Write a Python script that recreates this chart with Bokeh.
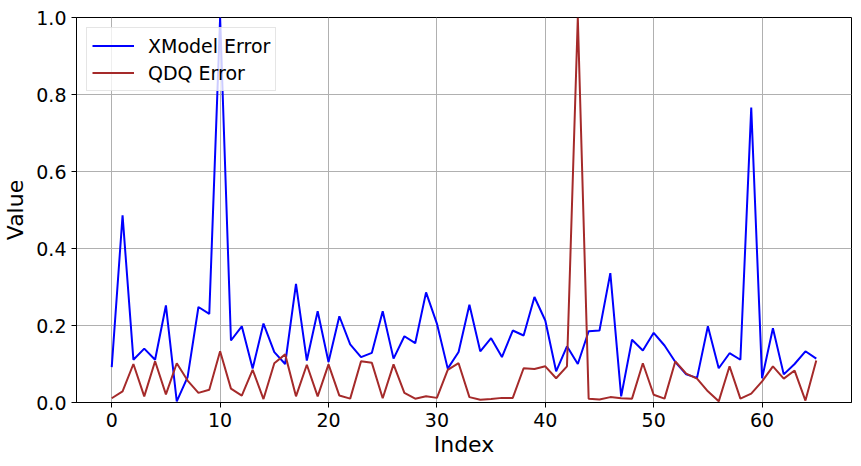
from bokeh.plotting import figure
from bokeh.models import Range1d, FixedTicker, PrintfTickFormatter, Legend, LegendItem
from bokeh.embed import file_html
from bokeh.resources import INLINE

index = list(range(66))
xmodel_error = [
    0.092, 0.486, 0.111, 0.140, 0.111, 0.252, 0.003, 0.066, 0.248, 0.230,
    1.000, 0.161, 0.198, 0.088, 0.205, 0.131, 0.100, 0.308, 0.109, 0.237,
    0.105, 0.224, 0.151, 0.118, 0.129, 0.237, 0.114, 0.172, 0.154, 0.286,
    0.205, 0.088, 0.131, 0.254, 0.133, 0.167, 0.118, 0.187, 0.174, 0.274,
    0.213, 0.081, 0.146, 0.100, 0.185, 0.187, 0.336, 0.016, 0.163, 0.135,
    0.181, 0.148, 0.105, 0.073, 0.064, 0.198, 0.089, 0.128, 0.111, 0.766,
    0.063, 0.193, 0.073, 0.100, 0.133, 0.114,
]
qdq_error = [
    0.011, 0.029, 0.100, 0.016, 0.107, 0.021, 0.102, 0.057, 0.025, 0.033,
    0.133, 0.036, 0.018, 0.085, 0.009, 0.102, 0.125, 0.016, 0.098, 0.016,
    0.099, 0.018, 0.010, 0.107, 0.103, 0.011, 0.099, 0.025, 0.010, 0.016,
    0.012, 0.085, 0.102, 0.014, 0.007, 0.009, 0.012, 0.012, 0.089, 0.087,
    0.094, 0.063, 0.094, 1.000, 0.010, 0.008, 0.014, 0.011, 0.010, 0.102,
    0.020, 0.010, 0.107, 0.075, 0.062, 0.029, 0.003, 0.094, 0.010, 0.023,
    0.055, 0.094, 0.062, 0.083, 0.005, 0.109,
]
x_ticks = [0, 10, 20, 30, 40, 50, 60]
y_ticks = [0.0, 0.2, 0.4, 0.6, 0.8, 1.0]

FONT = "DejaVu Sans"

p = figure(width=861, height=466, output_backend="svg", toolbar_location=None,
           x_range=Range1d(-3.25, 68.25), y_range=Range1d(0, 1),
           min_border_left=76, min_border_right=10, min_border_top=17, min_border_bottom=64)
p.background_fill_color = "white"
p.border_fill_color = "white"
p.outline_line_color = "black"
p.outline_line_width = 1

r1 = p.line(index, xmodel_error, line_color="#0000ff", line_width=2)
r2 = p.line(index, qdq_error, line_color="#a52a2a", line_width=2)

for ax in (p.xaxis[0], p.yaxis[0]):
    ax.major_label_text_font = FONT
    ax.major_label_text_font_size = "19px"
    ax.major_label_text_color = "black"
    ax.axis_label_text_font = FONT
    ax.axis_label_text_font_size = "22px"
    ax.axis_label_text_font_style = "normal"
    ax.axis_label_text_color = "black"
    ax.major_tick_out = 5
    ax.major_tick_in = 0
    ax.minor_tick_out = 0
    ax.minor_tick_in = 0
    ax.major_label_standoff = 5
    ax.axis_line_color = "black"
    ax.major_tick_line_color = "black"

p.xaxis.axis_label_standoff = 2
p.yaxis.axis_label_standoff = 5
p.xaxis.axis_label = "Index"
p.yaxis.axis_label = "Value"
p.xaxis.ticker = FixedTicker(ticks=x_ticks)
p.yaxis.ticker = FixedTicker(ticks=y_ticks)
p.yaxis.formatter = PrintfTickFormatter(format="%.1f")

p.xgrid.ticker = FixedTicker(ticks=x_ticks)
p.ygrid.ticker = FixedTicker(ticks=y_ticks)
p.grid.grid_line_color = "#b0b0b0"
p.grid.grid_line_width = 1

legend = Legend(items=[LegendItem(label="XModel Error", renderers=[r1]),
                       LegendItem(label="QDQ Error", renderers=[r2])],
                location="top_left")
legend.margin = 10
legend.padding = 5
legend.spacing = 2
legend.glyph_width = 42
legend.glyph_height = 25
legend.label_standoff = 14
legend.label_text_font = FONT
legend.label_text_font_size = "19px"
legend.label_text_color = "black"
legend.border_line_color = "#cccccc"
legend.border_line_width = 1
legend.background_fill_color = "white"
legend.background_fill_alpha = 0.8
p.add_layout(legend)

open("out.html", "w").write(file_html(p, INLINE))
